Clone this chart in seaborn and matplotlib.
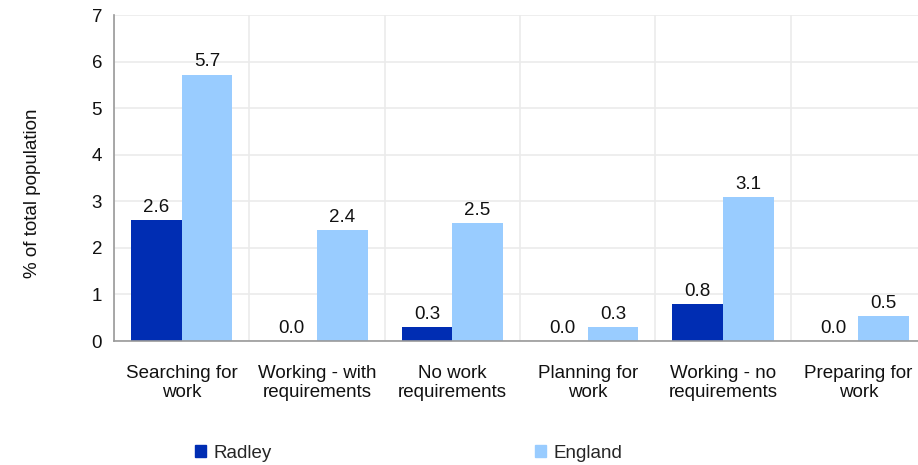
import numpy as np
import pandas as pd
import matplotlib
matplotlib.use('Agg')
import matplotlib.pyplot as plt
import seaborn as sns

categories = ['Searching for\nwork', 'Working - with\nrequirements', 'No work\nrequirements',
              'Planning for\nwork', 'Working - no\nrequirements', 'Preparing for\nwork']
radley = [2.6, 0.0, 0.3, 0.0, 0.8, 0.0]
england = [5.72, 2.38, 2.54, 0.3, 3.09, 0.54]
series = ['Radley', 'England']
colors = ['#002db3', '#99ccff']

df = pd.DataFrame({
    'category': categories * 2,
    'area': ['Radley'] * len(categories) + ['England'] * len(categories),
    'value': radley + england,
})

sns.set_style('white')
plt.rcParams['font.family'] = ['Liberation Sans', 'DejaVu Sans']
fs = 13.5

fig = plt.figure(figsize=(9.18, 4.65), dpi=100)
ax = fig.add_axes([114 / 918, 1 - 341 / 465, 812 / 918, 326 / 465])

sns.barplot(data=df, x='category', y='value', hue='area', hue_order=series,
            palette=colors, width=0.747, saturation=1, linewidth=0, ax=ax, legend=False)

for cont in ax.containers:
    ax.bar_label(cont, fmt='%.1f', padding=3, fontsize=fs, color='#111111')

ax.set_ylim(0, 7)
ax.set_xlim(-0.5, len(categories) - 0.5)
ax.set_yticks(range(0, 8))
ax.set_xticks(np.arange(-0.5, len(categories), 1.0), minor=True)
ax.tick_params(axis='x', which='major', length=0, pad=17, labelsize=fs, colors='#111111')
for t in ax.get_xticklabels():
    t.set_linespacing(1.15)
ax.tick_params(axis='x', which='minor', length=5, direction='out', color='#999999')
ax.tick_params(axis='y', length=5, direction='out', color='#999999', labelsize=fs, labelcolor='#111111')
ax.grid(True, axis='y', color='#ebebeb', lw=1.2)
ax.grid(True, axis='x', which='minor', color='#ebebeb', lw=1.2)
ax.set_axisbelow(True)
for s in ['top', 'right']:
    ax.spines[s].set_visible(False)
for s in ['left', 'bottom']:
    ax.spines[s].set_color('#999999')
    ax.spines[s].set_linewidth(1.2)

ax.set_xlabel('')
ax.set_ylabel('% of total population', fontsize=fs, color='#111111')
ax.yaxis.set_label_coords(-0.0899, 0.454)

handles = [plt.Rectangle((0, 0), 1, 1, color=c) for c in colors]
fig.legend(handles, series, loc='center left', bbox_to_anchor=(178 / 918, 1 - 453 / 465),
           ncol=2, frameon=False, fontsize=fs, handlelength=0.6, handleheight=0.6,
           handletextpad=0.4, columnspacing=14.04)

fig.savefig('out.png', dpi=100)
